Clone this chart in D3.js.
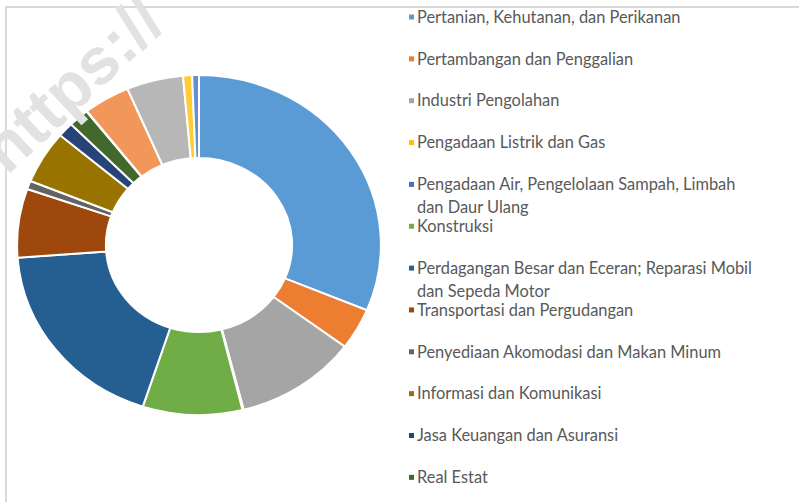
<!DOCTYPE html>
<html>
<head>
<meta charset="utf-8">
<script src="https://cdn.jsdelivr.net/npm/d3@7"></script>
<style>
  body { margin: 0; background: #fff; }
  svg { display: block; }
</style>
</head>
<body>
<div id="chart-area"></div>
<script>
// Sector names (17 lapangan usaha), line breaks as in the legend
const sectors = [
  "Pertanian, Kehutanan, dan Perikanan",
  "Pertambangan dan Penggalian",
  "Industri Pengolahan",
  "Pengadaan Listrik dan Gas",
  "Pengadaan Air, Pengelolaan Sampah, Limbah\ndan Daur Ulang",
  "Konstruksi",
  "Perdagangan Besar dan Eceran; Reparasi Mobil\ndan Sepeda Motor",
  "Transportasi dan Pergudangan",
  "Penyediaan Akomodasi dan Makan Minum",
  "Informasi dan Komunikasi",
  "Jasa Keuangan dan Asuransi",
  "Real Estat",
  "Jasa Perusahaan",
  "Administrasi Pemerintahan, Pertahanan dan Jaminan Sosial Wajib",
  "Jasa Pendidikan",
  "Jasa Kesehatan dan Kegiatan Sosial",
  "Jasa lainnya"
];

// share of each sector (%)
const shares = [31.1, 3.9, 10.8, 0.06, 0.04, 8.8, 18.7, 6.5, 0.8, 5.0, 1.4, 1.8, 0.05, 4.1, 5.0, 0.8, 0.6];

// Excel office palette
const colors = ["#5B9BD5", "#ED7D31", "#A5A5A5", "#FFC000", "#4472C4", "#70AD47",
  "#255E91", "#9E480E", "#636363", "#997300", "#264478", "#43682B",
  "#7CAFDD", "#F1975A", "#B7B7B7", "#FFCD33", "#698ED0"];

const width = 799;
const height = 502;

const svg = d3.select("#chart-area")
  .append("svg")
  .attr("width", width)
  .attr("height", height);

// chart frame (only top and left edges show)
svg.append("path")
  .attr("d", "M6,502 L6,7 L799,7")
  .attr("fill", "none")
  .attr("stroke", "#d9d9d9")
  .attr("stroke-width", 2);

const data = sectors.map((s, i) => ({ name: s, value: shares[i], color: colors[i] }));

const pie = d3.pie()
  .sort(null)
  .value(d => d.value);

const arc = d3.arc()
  .innerRadius(87)
  .outerRadius(170);

// picture is stretched a bit wider than high
const donut = svg.append("g")
  .attr("transform", "translate(199,245) scale(1.07,1)");

donut.selectAll("path.slice")
  .data(pie(data))
  .enter()
  .append("path")
  .attr("class", "slice")
  .attr("d", arc)
  .attr("fill", d => d.data.color)
  .attr("stroke", "#fff")
  .attr("stroke-width", 2)
  .attr("vector-effect", "non-scaling-stroke");

// legend
const legendX = 409;
const legendY0 = 17;
const legendStep = 41.85;

// only the entries that fit are shown, like the original
const legendItems = data
  .map((d, i) => ({ ...d, y: legendY0 + i * legendStep }))
  .filter(d => d.y < height);

const legend = svg.append("g").attr("class", "legend");

const item = legend.selectAll("g")
  .data(legendItems)
  .enter()
  .append("g")
  .attr("transform", d => `translate(${legendX},${d.y})`);

item.append("rect")
  .attr("x", 0)
  .attr("y", -2.5)
  .attr("width", 5)
  .attr("height", 5)
  .attr("fill", d => d.color);

item.append("text")
  .attr("x", 8)
  .attr("y", 0)
  .attr("fill", "#595959")
  .style("font-family", "Lato, sans-serif")
  .style("font-size", "16.4px")
  .selectAll("tspan")
  .data(d => d.name.split("\n"))
  .enter()
  .append("tspan")
  .attr("x", 8)
  .attr("dy", (d, i) => i == 0 ? "0.35em" : "23px")
  .text(d => d);

// faint watermark in the corner
svg.append("text")
  .attr("transform", "translate(7,176) rotate(-43)")
  .attr("fill", "#e2e2e2")
  .style("font-family", "'Liberation Sans', Arial, sans-serif")
  .style("font-weight", "bold")
  .style("font-size", "66px")
  .text("https://");
</script>
</body>
</html>
